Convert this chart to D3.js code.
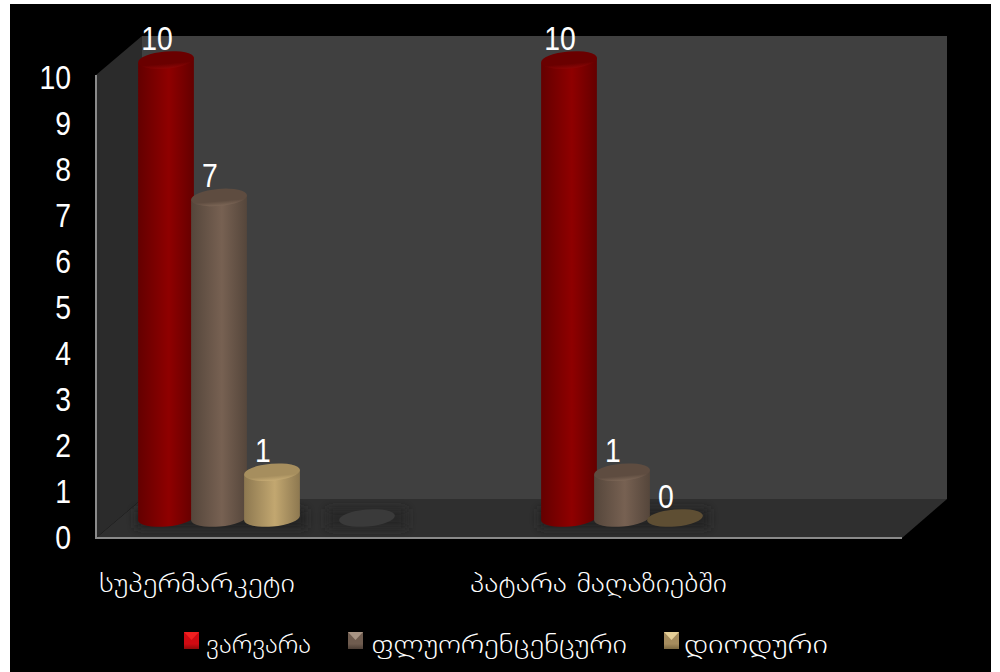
<!DOCTYPE html>
<html><head><meta charset="utf-8">
<script src="https://cdn.jsdelivr.net/npm/d3@7"></script>
<style>html,body{margin:0;background:#fff}svg{display:block}text{fill:#fff}</style></head>
<body><svg id="c" width="1000" height="672"></svg>
<script>
const categories=["სუპერმარკეტი","პატარა მაღაზიებში"];
const seriesNames=["ვარვარა","ფლუორენცენცური","დიოდური"];
const varvara=[10,10];
const fluorescent=[7,1];
const diode=[1,0];
const yTicks=[0,1,2,3,4,5,6,7,8,9,10];
const seriesValues=[varvara,fluorescent,diode];
const palettes=[
 {edge:"#640000",mid:"#8f0000",top:"#6a0000",rim:"#8c0606",leg:"#d00a12",legHi:"#f02020",legLo:"#8f0a0a"},
 {edge:"#55463b",mid:"#776152",top:"#5e4c40",rim:"#7c6656",leg:"#6f5c4f",legHi:"#a89484",legLo:"#4d3f36"},
 {edge:"#8d7850",mid:"#c2a770",top:"#a68e5e",rim:"#c6ab74",leg:"#a58c5e",legHi:"#e6cf98",legLo:"#7c6941"}];
const svg=d3.select("#c"),defs=svg.append("defs");
const georgian='"DejaVu Sans","Noto Sans",sans-serif';
const digits='"Liberation Sans",Arial,sans-serif';

svg.append("rect").attr("x",10).attr("y",4).attr("width",981).attr("height",668).attr("fill","#000");

// walls
const FL=96,FR=902,BL=142,BR=947,BT=36,BB=499,FT=75,FB=538;
const g=svg.append("g");
g.append("rect").attr("x",BL).attr("y",BT).attr("width",BR-BL).attr("height",BB-BT).attr("fill","#404040");
g.append("path").attr("d",d3.line()([[FL,FT],[BL,BT],[BL,BB],[FL,FB]])).attr("fill","#2b2b2b");
g.append("path").attr("d",d3.line()([[FL,FB],[BL,BB],[BR,BB],[FR,FB]])).attr("fill","#2f2f2f");
g.append("path").attr("d",`M${FL},${FT}V${FB}H${FR}`).attr("fill","none").attr("stroke","#8a8a8a").attr("stroke-width",2);

// axis labels
const yAxis=d3.scaleLinear().domain([0,10]).range([537,77]);
const axisG=svg.append("g").call(d3.axisLeft(yAxis).tickValues(yTicks).tickSize(0).tickFormat(d3.format("d")));
axisG.select(".domain").remove();
axisG.selectAll("text").attr("x",0).attr("dy",0).attr("transform","translate(71,11) scale(.86,1)")
 .attr("text-anchor","end").attr("font-family",digits).attr("font-size",33).style("fill","#fff");

// bars
const yBar=d3.scaleLinear().domain([0,10]).range([518,60]);
const x0=d3.scaleOrdinal().domain(categories).range([166,569]);
const xOff=d3.scaleLinear().domain([0,2]).range([0,106]);
const RX=28,RY=8.5,ROT=-5;
palettes.forEach((p,i)=>{
 const gr=defs.append("linearGradient").attr("id","cyl"+i);
 gr.append("stop").attr("offset",0).attr("stop-color",p.edge);
 gr.append("stop").attr("offset",.55).attr("stop-color",p.mid);
 gr.append("stop").attr("offset",1).attr("stop-color",p.edge);
 const tp=defs.append("linearGradient").attr("id","top"+i).attr("x1",0).attr("y1",0).attr("x2",0).attr("y2",1);
 tp.append("stop").attr("offset",0).attr("stop-color",p.top);
 tp.append("stop").attr("offset",.72).attr("stop-color",p.top);
 tp.append("stop").attr("offset",1).attr("stop-color",p.rim);
});
const blur=defs.append("filter").attr("id","sh").attr("x","-30%").attr("y","-60%").attr("width","160%").attr("height","220%");
blur.append("feGaussianBlur").attr("stdDeviation",5);
const marks=svg.append("g");
const emptyX=x0(categories[0])+201;
// floor shadows
categories.forEach(c=>{
 marks.append("rect").attr("x",x0(c)-30).attr("y",yBar(0)-9).attr("width",170).attr("height",19).attr("fill","#232323").attr("filter","url(#sh)");
});
marks.append("rect").attr("x",emptyX-40).attr("y",yBar(0)-9).attr("width",80).attr("height",19).attr("fill","#252525").attr("filter","url(#sh)");
marks.append("ellipse").attr("cx",emptyX).attr("cy",yBar(0)).attr("rx",RX).attr("ry",RY).attr("transform",`rotate(${ROT} ${emptyX} ${yBar(0)})`).attr("fill","#3a3a3a");

categories.forEach((c,ci)=>{
 seriesValues.forEach((vals,si)=>{
  const v=vals[ci],cx=x0(c)+xOff(si),yt=yBar(v),yb=yBar(0);
  const gg=marks.append("g");
  if(v>0){
   const dx=RX*Math.cos(ROT*Math.PI/180),dy=RX*Math.sin(ROT*Math.PI/180);
   gg.append("path").attr("fill",`url(#cyl${si})`)
    .attr("d",`M${cx-dx},${yt-dy}L${cx-dx},${yb-dy}A${RX},${RY} ${ROT} 0 0 ${cx+dx},${yb+dy}L${cx+dx},${yt+dy}Z`);
   gg.append("ellipse").attr("cx",cx).attr("cy",yt).attr("rx",RX).attr("ry",RY)
    .attr("transform",`rotate(${ROT} ${cx} ${yt})`).attr("fill",`url(#top${si})`);
  } else {
   gg.append("ellipse").attr("cx",cx).attr("cy",yt).attr("rx",RX).attr("ry",RY)
    .attr("transform",`rotate(${ROT} ${cx} ${yt})`).attr("fill","#5e4e33");
  }
  marks.append("text").attr("transform",`translate(${cx-9},${yt-10.5}) scale(.86,1)`)
   .attr("text-anchor","middle").attr("font-family",digits).attr("font-size",33).text(v);
 });
});

// categories
const catX=[99,470],catW=[196,257];
svg.append("g").selectAll("text").data(categories).join("text")
 .attr("x",(d,i)=>catX[i]).attr("y",592).attr("font-family",georgian).attr("font-weight",200).attr("font-size",26)
 .attr("textLength",(d,i)=>catW[i]).attr("lengthAdjust","spacingAndGlyphs").text(d=>d);

// legend
const legX=[184,348,664],legTx=[206,371,684],legW=[105,256,144];
const leg=svg.append("g");
palettes.forEach((p,i)=>{
 const gr=defs.append("linearGradient").attr("id","lg"+i).attr("x1",0).attr("y1",0).attr("x2",0).attr("y2",1);
 gr.append("stop").attr("offset",0).attr("stop-color",p.leg);
 gr.append("stop").attr("offset",.7).attr("stop-color",p.leg);
 gr.append("stop").attr("offset",1).attr("stop-color",p.legLo);
 leg.append("rect").attr("x",legX[i]).attr("y",632).attr("width",15).attr("height",17).attr("fill",`url(#lg${i})`);
 leg.append("path").attr("d",d3.line()([[legX[i],632],[legX[i]+15,632],[legX[i]+7.5,640]])).attr("fill",p.legHi);
});
leg.selectAll("text").data(seriesNames).join("text").attr("x",(d,i)=>legTx[i]).attr("y",653).attr("font-family",georgian).attr("font-weight",200).attr("font-size",26)
 .attr("textLength",(d,i)=>legW[i]).attr("lengthAdjust","spacingAndGlyphs").text(d=>d);
</script></body></html>
